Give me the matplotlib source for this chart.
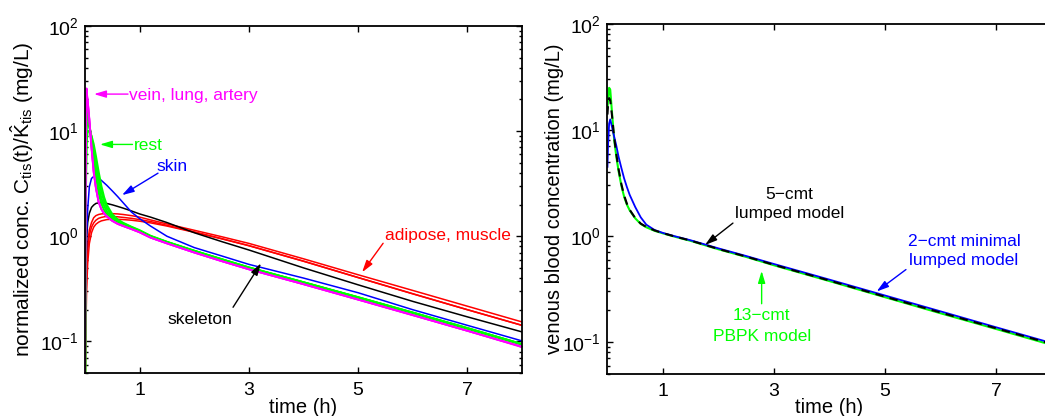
import matplotlib
matplotlib.use('Agg')
import matplotlib.pyplot as plt
from matplotlib.ticker import LogLocator, NullFormatter

plt.rcParams['font.family'] = ['Liberation Sans', 'DejaVu Sans']
plt.rcParams['mathtext.fontset'] = 'custom'
plt.rcParams['mathtext.rm'] = 'Liberation Sans'
plt.rcParams['mathtext.it'] = 'Liberation Sans:italic'
plt.rcParams['mathtext.bf'] = 'Liberation Sans:bold'

# time grid (h), shared by every curve
t = [0, 0.01, 0.03, 0.05, 0.08, 0.12, 0.16, 0.2, 0.25, 0.3, 0.35, 0.4, 0.5, 0.6,
     0.7, 0.85, 1.0, 1.2, 1.5, 2.0, 2.5, 3.0, 4.0, 5.0, 6.0, 7.0, 8.0]

# left panel: normalized tissue concentrations (mg/L)
vein = [0.01, 6, 25.5, 19, 12.7, 6.8, 4.0, 2.85, 2.1, 1.8, 1.64, 1.54, 1.4, 1.31,
        1.25, 1.17, 1.09, 0.97, 0.855, 0.70, 0.58, 0.485, 0.35, 0.25, 0.178, 0.126, 0.089]
lung = [0.01, 4, 23.5, 19.5, 13, 7.0, 4.1, 2.9, 2.12, 1.81, 1.65, 1.545, 1.4, 1.31,
        1.25, 1.17, 1.09, 0.97, 0.855, 0.70, 0.58, 0.485, 0.35, 0.25, 0.178, 0.126, 0.089]
artery = [0.01, 3, 22, 19.5, 13.2, 7.1, 4.15, 2.92, 2.13, 1.82, 1.65, 1.55, 1.4, 1.31,
          1.25, 1.17, 1.09, 0.97, 0.855, 0.70, 0.58, 0.484, 0.349, 0.249, 0.177, 0.126, 0.088]

rest1 = [0.01, 4, 18, 16, 11.5, 7.8, 5.2, 3.7, 2.6, 2.05, 1.78, 1.62, 1.45, 1.35,
         1.28, 1.2, 1.11, 0.99, 0.875, 0.72, 0.6, 0.5, 0.362, 0.26, 0.186, 0.132, 0.093]
rest2 = [0.01, 3, 14, 14, 11.5, 8.3, 5.9, 4.2, 3.0, 2.3, 1.95, 1.72, 1.5, 1.38,
         1.3, 1.21, 1.12, 1.0, 0.88, 0.725, 0.603, 0.503, 0.364, 0.262, 0.187, 0.133, 0.094]
rest3 = [0.01, 2, 11, 12, 11, 8.8, 6.6, 4.9, 3.5, 2.65, 2.15, 1.85, 1.56, 1.41,
         1.32, 1.22, 1.13, 1.0, 0.88, 0.725, 0.603, 0.503, 0.364, 0.262, 0.187, 0.133, 0.094]
rest4 = [0.01, 1.5, 8, 10, 10, 9, 7.5, 5.8, 4.1, 3.0, 2.35, 1.98, 1.62, 1.44,
         1.34, 1.23, 1.14, 1.01, 0.885, 0.728, 0.605, 0.505, 0.365, 0.263, 0.188, 0.134, 0.094]

skin = [0.01, 0.3, 1.0, 1.8, 2.95, 3.55, 3.7, 3.68, 3.55, 3.4, 3.22, 3.05, 2.7, 2.38,
        2.08, 1.7, 1.47, 1.25, 1.0, 0.78, 0.65, 0.54, 0.4, 0.29, 0.2, 0.142, 0.101]
skeleton = [0.01, 0.3, 0.95, 1.35, 1.65, 1.88, 1.98, 2.05, 2.08, 2.09, 2.08, 2.05, 1.99, 1.92,
            1.85, 1.74, 1.63, 1.52, 1.35, 1.08, 0.89, 0.74, 0.50, 0.345, 0.24, 0.171, 0.123]

adipose = [0.01, 0.15, 0.55, 0.85, 1.15, 1.35, 1.5, 1.57, 1.61, 1.63, 1.64, 1.64, 1.64, 1.63,
           1.61, 1.57, 1.52, 1.43, 1.31, 1.14, 0.99, 0.855, 0.61, 0.43, 0.305, 0.216, 0.153]
muscle1 = [0.01, 0.12, 0.45, 0.75, 1.02, 1.22, 1.34, 1.42, 1.48, 1.51, 1.53, 1.54, 1.54, 1.53,
           1.51, 1.48, 1.44, 1.38, 1.27, 1.1, 0.95, 0.815, 0.58, 0.405, 0.284, 0.2, 0.142]
muscle2 = [0.01, 0.08, 0.3, 0.55, 0.85, 1.08, 1.22, 1.3, 1.36, 1.4, 1.42, 1.44, 1.45, 1.45,
           1.44, 1.42, 1.39, 1.34, 1.25, 1.09, 0.945, 0.812, 0.578, 0.404, 0.283, 0.2, 0.142]

# right panel: venous blood concentration (mg/L)
pbpk13 = [16, 19, 25, 24, 15, 8.2, 5.6, 4.1, 3.0, 2.35, 1.98, 1.75, 1.47, 1.3,
          1.21, 1.12, 1.06, 0.99, 0.9, 0.75, 0.635, 0.53, 0.376, 0.265, 0.187, 0.133, 0.094]
lumped5 = [14, 17, 20, 19, 14, 8.6, 5.9, 4.3, 3.1, 2.42, 2.02, 1.77, 1.48, 1.31,
           1.22, 1.13, 1.065, 0.995, 0.905, 0.755, 0.64, 0.535, 0.38, 0.268, 0.19, 0.135, 0.096]
minimal2 = [4.5, 7, 11.5, 12.6, 10.8, 8.7, 7.1, 5.6, 4.4, 3.5, 2.9, 2.45, 1.88, 1.5,
            1.28, 1.14, 1.07, 1.0, 0.912, 0.765, 0.648, 0.545, 0.388, 0.275, 0.195, 0.138, 0.098]

MAG = '#ff00ff'
GRN = '#00ff00'
BLU = '#0000ff'
RED = '#ff0000'

fig = plt.figure(figsize=(10.45, 4.16), dpi=100)
ax1 = fig.add_axes([0.0813, 0.1034, 0.4182, 0.8341])
ax2 = fig.add_axes([0.5813, 0.1010, 0.4249, 0.8413])


def style(ax):
    ax.set_yscale('log')
    ax.set_xlim(0, 8)
    ax.set_ylim(0.05, 100)
    ax.set_xticks([1, 3, 5, 7])
    ax.set_xticklabels(['1', '3', '5', '7'])
    ax.yaxis.set_major_locator(LogLocator(base=10, numticks=10))
    ax.yaxis.set_minor_locator(LogLocator(base=10, subs=(2, 3, 4, 5, 6, 7, 8, 9), numticks=10))
    ax.yaxis.set_minor_formatter(NullFormatter())
    ax.tick_params(which='both', direction='in', top=True, right=True,
                   labelsize=14, width=1)
    ax.tick_params(which='major', length=4.5)
    ax.tick_params(which='minor', length=2.5)
    ax.tick_params(axis='x', pad=6.5)
    ax.tick_params(axis='y', pad=4.5)
    for s in ax.spines.values():
        s.set_linewidth(1.3)
    ax.set_xlabel('time (h)', fontsize=14.5)


def arrow(ax, tail, tip, color):
    ax.annotate('', xy=tip, xytext=tail,
                arrowprops=dict(arrowstyle='-|>,head_length=0.6,head_width=0.18',
                                color=color, lw=1, mutation_scale=12,
                                shrinkA=0, shrinkB=0))


# ---- left panel
lw = 1.1
for c in (adipose, muscle1, muscle2):
    ax1.plot(t, c, color=RED, lw=lw)
ax1.plot(t, skeleton, color='k', lw=lw)
ax1.plot(t, skin, color=BLU, lw=lw)
for c in (rest1, rest2, rest3, rest4):
    ax1.plot(t, c, color=GRN, lw=1.5)
for c in (vein, lung, artery):
    ax1.plot(t, c, color=MAG, lw=1.3)
style(ax1)
ax1.set_ylabel(r'normalized conc. $\mathregular{C_{tis}(t)/\hat{K}_{tis}}$ (mg/L)', fontsize=15)
ax1.yaxis.set_label_coords(-0.112, 0.5)
ax1.xaxis.set_label_coords(0.5, -0.072)

fs = 12.5
ax1.text(0.806, 19.7, 'vein, lung, artery', color=MAG, fontsize=fs, ha='left', va='baseline')
arrow(ax1, (0.788, 22.5), (0.165, 22.5), MAG)
ax1.text(0.897, 6.59, 'rest', color=GRN, fontsize=fs, ha='left', va='baseline')
arrow(ax1, (0.87, 7.47), (0.275, 7.47), GRN)
ax1.text(1.603, 4.19, 'skin', color=BLU, fontsize=fs, ha='center', va='baseline')
arrow(ax1, (1.337, 3.98), (0.678, 2.46), BLU)
ax1.text(6.64, 0.93, 'adipose, muscle', color=RED, fontsize=fs, ha='center', va='baseline')
arrow(ax1, (5.458, 0.857), (5.073, 0.454), RED)
ax1.text(2.106, 0.1474, 'skeleton', color='k', fontsize=fs, ha='center', va='baseline')
arrow(ax1, (2.711, 0.211), (3.223, 0.553), 'k')

# ---- right panel
ax2.plot(t, pbpk13, color=GRN, lw=1.5)
ax2.plot(t, minimal2, color=BLU, lw=1.3)
ax2.plot(t, lumped5, color='k', lw=1.5, ls=(0, (4, 3)))
style(ax2)
ax2.set_ylabel('venous blood concentration (mg/L)', fontsize=14.5)
ax2.yaxis.set_label_coords(-0.098, 0.5)
ax2.xaxis.set_label_coords(0.5, -0.069)

ax2.text(3.276, 2.26, '5\u2212cmt', color='k', fontsize=fs, ha='center', va='baseline')
ax2.text(3.276, 1.466, 'lumped model', color='k', fontsize=fs, ha='center', va='baseline')
arrow(ax2, (2.261, 1.325), (1.757, 0.823), 'k')
ax2.text(6.423, 0.80, '2\u2212cmt minimal', color=BLU, fontsize=fs, ha='center', va='baseline')
ax2.text(6.423, 0.535, 'lumped model', color=BLU, fontsize=fs, ha='center', va='baseline')
arrow(ax2, (5.378, 0.483), (4.85, 0.30), BLU)
ax2.text(2.778, 0.160, '13\u2212cmt', color=GRN, fontsize=fs, ha='center', va='baseline')
ax2.text(2.778, 0.1026, 'PBPK model', color=GRN, fontsize=fs, ha='center', va='baseline')
arrow(ax2, (2.778, 0.230), (2.778, 0.469), GRN)

fig.savefig('out.png', dpi=100)
